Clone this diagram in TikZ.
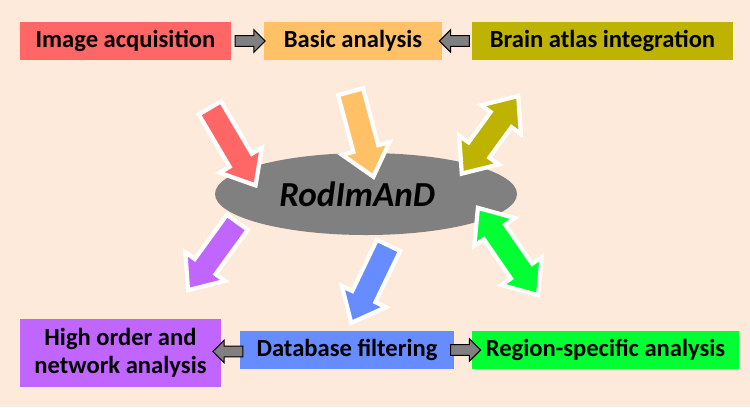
\documentclass[tikz,border=0pt]{standalone}
\usepackage{fontspec}
\setmainfont{Carlito}
\usetikzlibrary{shapes,arrows,positioning,calc}
\definecolor{bgpeach}{RGB}{253,234,218}
\definecolor{acqred}{RGB}{255,102,102}
\definecolor{basicorange}{RGB}{255,192,102}
\definecolor{atlasolive}{RGB}{189,179,0}
\definecolor{netpurple}{RGB}{192,102,255}
\definecolor{dbblue}{RGB}{102,140,255}
\definecolor{regiongreen}{RGB}{0,255,51}
\definecolor{coregray}{RGB}{128,128,128}

\tikzset{
    box/.style={inner sep=0pt, align=center, minimum height=0.95cm,
        font=\fontsize{17.5}{19.5}\selectfont\bfseries},
    linkarrow/.style={single arrow, draw=black, fill=coregray, line width=0.7pt,
        minimum height=0.75cm, inner sep=0.12cm, single arrow head extend=0.15cm},
    flowarrow/.style={single arrow, draw=white, line width=3pt, inner sep=0.27cm,
        minimum height=#1, single arrow head extend=0.29cm, single arrow tip angle=80},
    swaparrow/.style={double arrow, draw=white, line width=3pt, inner sep=0.27cm,
        minimum height=#1, double arrow head extend=0.29cm, double arrow tip angle=80}
}

\begin{document}
\begin{tikzpicture}
    % Background
    \fill[bgpeach] (0,0) rectangle (18.75,-10.175);

    % Top row
    \node[box, fill=acqred, minimum width=5.275cm] (acq) at (3.1375,-1.025) {Image acquisition};
    \node[box, fill=basicorange, minimum width=4.45cm] (basic) at (8.825,-1.025) {Basic analysis};
    \node[box, fill=atlasolive, minimum width=6.525cm] (atlas) at (15.0625,-1.025) {Brain atlas integration};
    \node[linkarrow] (l1) at ($(acq.east)!0.5!(basic.west)$) {};
    \node[linkarrow, rotate=180] (l2) at ($(basic.east)!0.5!(atlas.west)$) {};

    % Bottom row
    \node[box, fill=netpurple, minimum width=5.025cm, minimum height=1.7cm] (net) at (3.0125,-8.825) {High order and\\network analysis};
    \node[box, fill=dbblue, minimum width=5.35cm] (db) at (8.675,-8.75) {Database filtering};
    \node[box, fill=regiongreen, minimum width=6.675cm] (region) at (15.1375,-8.75) {Region-specific analysis};
    \node[linkarrow, rotate=180] (l3) at ($(net.east)!0.5!(db.west)$) {};
    \node[linkarrow] (l4) at ($(db.east)!0.5!(region.west)$) {};

    % Core
    \node[ellipse, fill=coregray, inner sep=0pt, minimum width=7.55cm, minimum height=2.05cm] (core) at (9.15,-4.85) {};
    \node[font=\fontsize{25}{28}\selectfont\bfseries\itshape] (corename) at ([xshift=-0.22cm]core.center) {RodImAnD};

    % Arrows to and from the core
    \node[flowarrow=2.25cm, fill=acqred, rotate=-59.5] (fa) at (5.72,-3.5) {};
    \node[flowarrow=2.2cm, fill=basicorange, rotate=-75] (fb) at (9.0,-3.17) {};
    \node[swaparrow=2.4cm, fill=atlasolive, rotate=54] (fc) at (12.25,-3.37) {};
    \node[flowarrow=2.1cm, fill=netpurple, rotate=-126] (fd) at (5.43,-6.25) {};
    \node[flowarrow=2.15cm, fill=dbblue, rotate=-115.7] (fe) at (9.33,-6.93) {};
    \node[swaparrow=2.65cm, fill=regiongreen, rotate=-55.4] (ff) at (12.7,-6.2875) {};
\end{tikzpicture}
\end{document}
